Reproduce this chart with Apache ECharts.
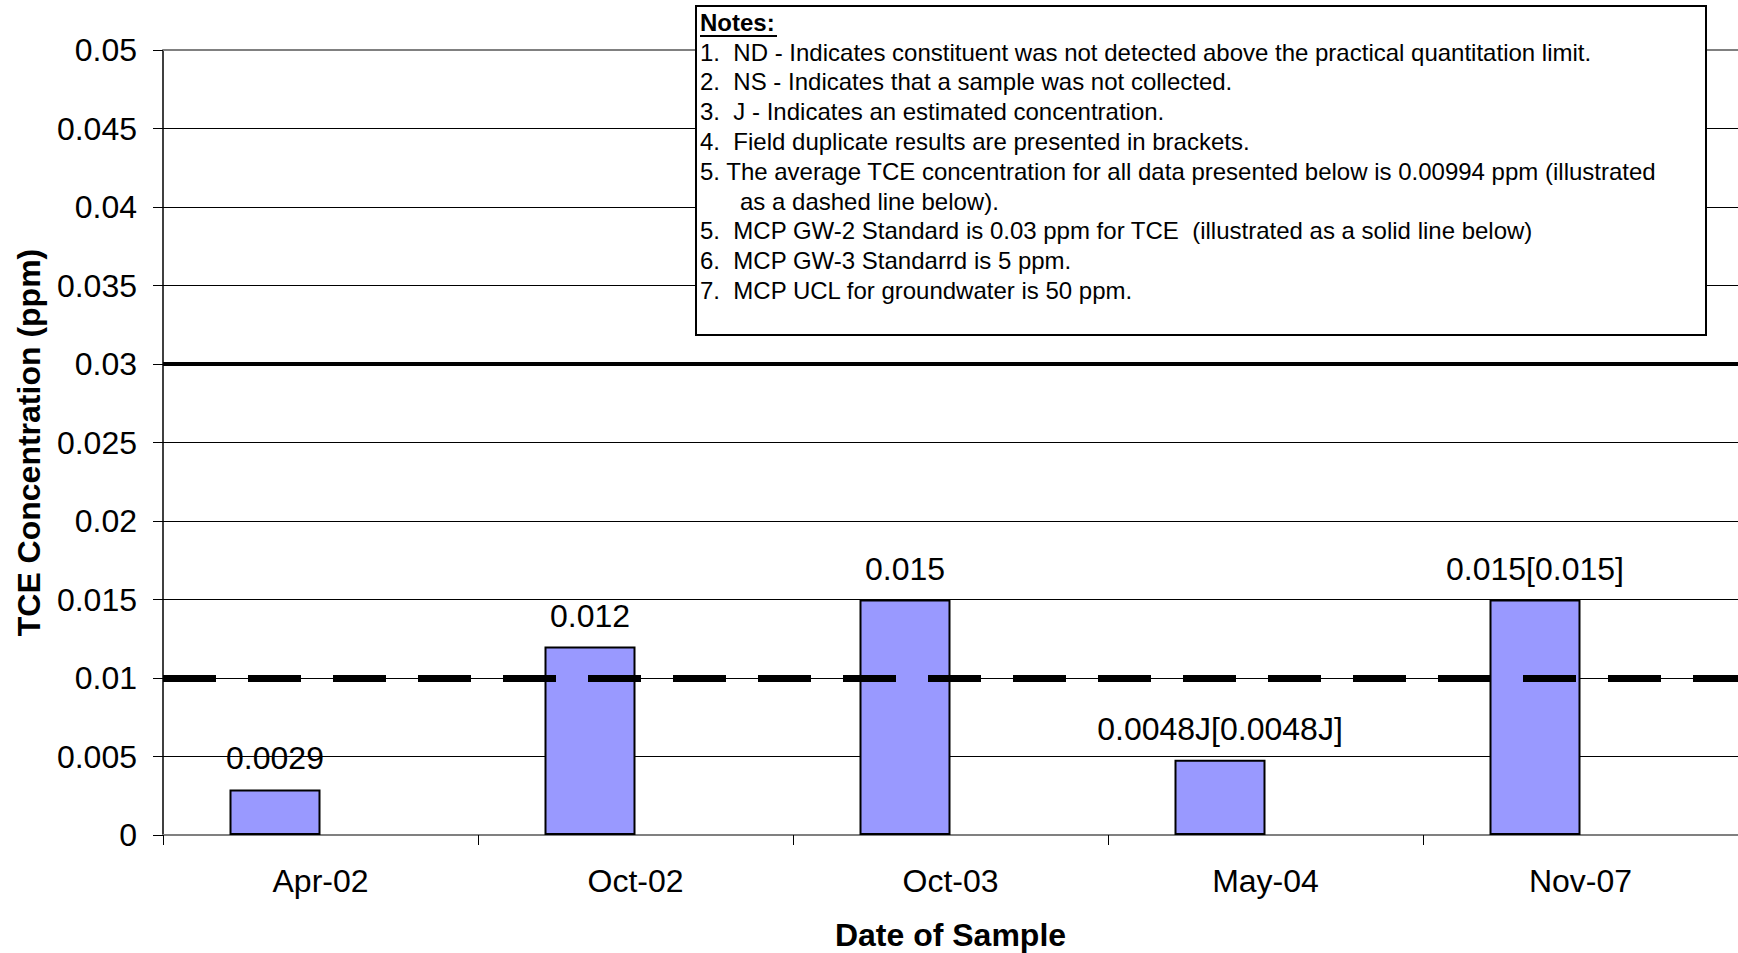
<!DOCTYPE html>
<html>
<head>
<meta charset="utf-8">
<title>TCE Concentration</title>
<script src="https://cdn.jsdelivr.net/npm/echarts@6/dist/echarts.min.js"></script>
<style>
  html, body { margin: 0; padding: 0; background: #fff; overflow: hidden; }
  #chart { width: 1738px; height: 953px; }
</style>
</head>
<body>
<div id="chart"></div>
<script>
// Sampling events and measured TCE concentrations (ppm)
const sampleDates = ['Apr-02', 'Oct-02', 'Oct-03', 'May-04', 'Nov-07'];
const tceValues = [0.0029, 0.012, 0.015, 0.0048, 0.015];
const tceLabels = ['0.0029', '0.012', '0.015', '0.0048J[0.0048J]', '0.015[0.015]'];
// Field duplicate series (kept empty, occupies the second slot of each cluster)
const duplicateValues = [null, null, null, null, null];

// Reference levels (ppm)
const averageTce = 0.00994;
const gw2Standard = 0.03;

// Notes printed in the box
const noteLines = [
  '1.  ND - Indicates constituent was not detected above the practical quantitation limit.',
  '2.  NS - Indicates that a sample was not collected.',
  '3.  J - Indicates an estimated concentration.',
  '4.  Field duplicate results are presented in brackets.',
  '5. The average TCE concentration for all data presented below is 0.00994 ppm (illustrated',
  '      as a dashed line below).',
  '5.  MCP GW-2 Standard is 0.03 ppm for TCE  (illustrated as a solid line below)',
  '6.  MCP GW-3 Standarrd is 5 ppm.',
  '7.  MCP UCL for groundwater is 50 ppm.'
];

const FONT = '"Liberation Sans", Arial, sans-serif';
const chart = echarts.init(document.getElementById('chart'), null, { renderer: 'svg' });

const noteTexts = noteLines.map((t, i) => ({
  type: 'text',
  left: 700,
  top: 40 + i * 29.8,
  z: 101,
  style: { text: t, fontFamily: FONT, fontSize: 24, fill: '#000' }
}));

chart.setOption({
  animation: false,
  backgroundColor: '#fff',
  grid: { left: 163, right: 0, top: 50, bottom: 118, containLabel: false, outerBoundsMode: 'none' },
  xAxis: {
    type: 'category',
    data: sampleDates,
    name: 'Date of Sample',
    nameLocation: 'middle',
    nameGap: 84,
    nameTextStyle: { fontFamily: FONT, fontSize: 32, fontWeight: 'bold', color: '#000' },
    axisLine: { lineStyle: { color: '#808080', width: 2 } },
    axisTick: { show: true, length: 10, lineStyle: { color: '#000', width: 1 } },
    axisLabel: { fontFamily: FONT, fontSize: 32, color: '#000', margin: 30 },
    splitLine: { show: false }
  },
  yAxis: {
    type: 'value',
    min: 0,
    max: 0.05,
    interval: 0.005,
    name: 'TCE Concentration (ppm)',
    nameLocation: 'middle',
    nameRotate: 90,
    nameGap: 118,
    nameTextStyle: { fontFamily: FONT, fontSize: 32, fontWeight: 'bold', color: '#000' },
    axisLine: { show: true, lineStyle: { color: '#000', width: 1.5 } },
    axisTick: { show: true, length: 10, lineStyle: { color: '#000', width: 1 } },
    axisLabel: {
      fontFamily: FONT, fontSize: 32, color: '#000', margin: 26,
      formatter: v => String(parseFloat(v.toFixed(4)))
    },
    splitLine: { show: true, lineStyle: { color: '#000', width: 1 } }
  },
  series: [
    {
      type: 'bar',
      data: tceValues,
      barWidth: 91,
      barGap: '0%',
      itemStyle: { color: '#9999FF', borderColor: '#000', borderWidth: 2 },
      label: {
        show: true,
        position: 'top',
        distance: 15,
        fontFamily: FONT,
        fontSize: 32,
        color: '#000',
        formatter: p => tceLabels[p.dataIndex]
      },
      markLine: {
        silent: true,
        symbol: 'none',
        label: { show: false },
        data: [
          { yAxis: averageTce, lineStyle: { color: '#000', width: 7, type: [53, 32] } },
          { yAxis: gw2Standard, lineStyle: { color: '#000', width: 4, type: 'solid' } },
          { yAxis: 0.05, lineStyle: { color: '#808080', width: 2, type: 'solid' } }
        ]
      },
      z: 2
    },
    {
      type: 'bar',
      data: duplicateValues,
      barWidth: 91,
      barGap: '0%',
      itemStyle: { color: '#993366', borderColor: '#000', borderWidth: 2 }
    }
  ],
  graphic: [
    {
      type: 'rect',
      left: 695,
      top: 5,
      shape: { width: 1010, height: 329 },
      style: { fill: '#fff', stroke: '#000', lineWidth: 2 },
      z: 100
    },
    {
      type: 'text',
      left: 700,
      top: 10,
      z: 101,
      style: { text: 'Notes:', fontFamily: FONT, fontSize: 24, fontWeight: 'bold', fill: '#000' }
    },
    {
      type: 'line',
      z: 101,
      shape: { x1: 700, y1: 36, x2: 777, y2: 36 },
      style: { stroke: '#000', lineWidth: 2 }
    }
  ].concat(noteTexts)
});
</script>
</body>
</html>
